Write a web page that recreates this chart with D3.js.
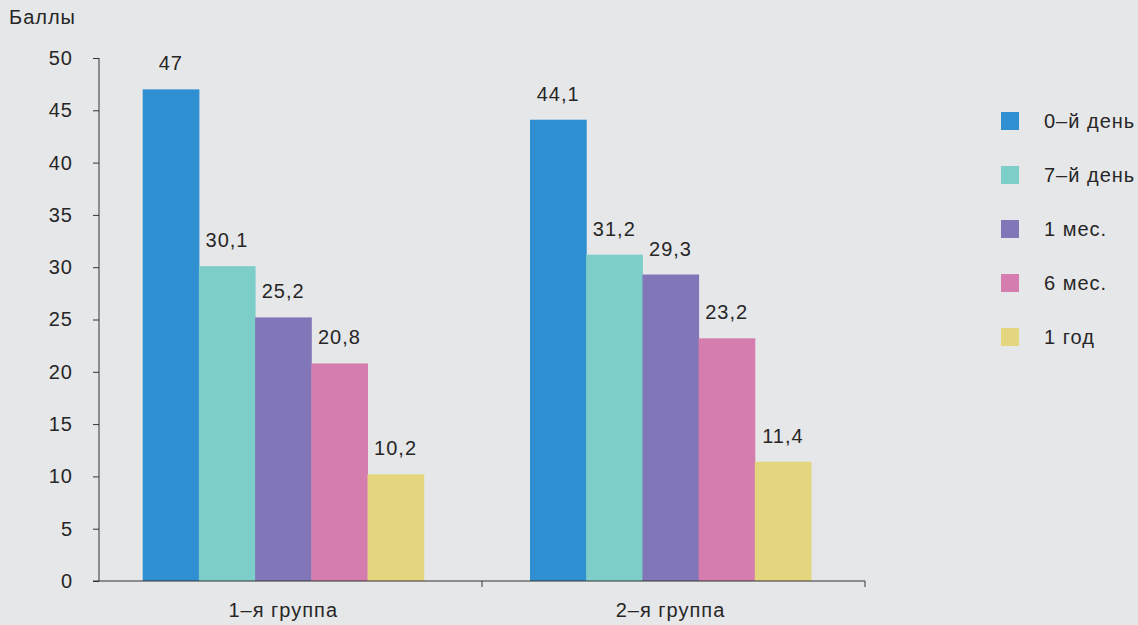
<!DOCTYPE html>
<html>
<head>
<meta charset="utf-8">
<script src="https://cdn.jsdelivr.net/npm/d3@7"></script>
<style>
  html, body { margin: 0; padding: 0; background: #e6e7e9; }
  svg { display: block; font-family: "Liberation Sans", Arial, sans-serif; }
  text { fill: #262626; letter-spacing: 1px; }
</style>
</head>
<body>
<svg id="chart" width="1138" height="625"></svg>
<script>
// Groups, time points and scores
const groups = ["1–я группа", "2–я группа"];
const series = ["0–й день", "7–й день", "1 мес.", "6 мес.", "1 год"];
const group1Values = [47, 30.1, 25.2, 20.8, 10.2];
const group2Values = [44.1, 31.2, 29.3, 23.2, 11.4];
const yTicks = [0, 5, 10, 15, 20, 25, 30, 35, 40, 45, 50];
const yTitle = "Баллы";
const colors = ["#2f8fd0", "#7dcdc8", "#8076b8", "#d57daf", "#e3d67e"];

const values = [group1Values, group2Values];
const data = groups.map((g, gi) => ({
  group: g,
  items: series.map((s, si) => ({ series: s, value: values[gi][si] }))
}));

const svg = d3.select("#chart");
const fmt = v => String(v).replace(".", ",");

// Plot frame
const plotLeft = 99, plotRight = 865, plotTop = 58, plotBottom = 581;

const y = d3.scaleLinear().domain([0, 50]).range([plotBottom, plotTop]);

// Group sections along the x axis (boundaries carry the ticks)
const xSection = d3.scaleBand().domain(groups).range([plotLeft, plotRight]).paddingInner(0);

// Bar clusters
const xGroup = d3.scaleBand().domain(groups).range([142.7, 811]).paddingInner(0.2745).paddingOuter(0);
const xSeries = d3.scaleBand().domain(series).range([0, xGroup.bandwidth()]).padding(0);
const color = d3.scaleOrdinal().domain(series).range(colors);

// Y axis
const yAxis = d3.axisLeft(y).tickValues(yTicks).tickSize(6).tickPadding(20).tickFormat(d => d);
const gy = svg.append("g").attr("transform", `translate(${plotLeft},0)`).call(yAxis);
gy.selectAll("path, line").attr("stroke", "#333");
gy.selectAll("text").attr("font-size", 20).attr("fill", "#262626").style("font-family", "Liberation Sans, Arial, sans-serif");
gy.select(".domain").remove();
svg.append("line")
  .attr("x1", plotLeft).attr("x2", plotLeft)
  .attr("y1", y(50)).attr("y2", y(0))
  .attr("stroke", "#333");

// Y title
svg.append("text").attr("x", 9).attr("y", 24).attr("font-size", 20).text(yTitle);

// Bars
const gGroups = svg.selectAll("g.grp").data(data).join("g")
  .attr("class", "grp")
  .attr("transform", d => `translate(${xGroup(d.group)},0)`);

gGroups.selectAll("rect").data(d => d.items).join("rect")
  .attr("x", d => xSeries(d.series))
  .attr("width", xSeries.bandwidth() + 0.5)
  .attr("y", d => y(d.value))
  .attr("height", d => y(0) - y(d.value))
  .attr("fill", d => color(d.series));

gGroups.selectAll("text.val").data(d => d.items).join("text")
  .attr("class", "val")
  .attr("x", d => xSeries(d.series) + xSeries.bandwidth() / 2)
  .attr("y", d => y(d.value) - 19)
  .attr("text-anchor", "middle")
  .attr("font-size", 20)
  .text(d => fmt(d.value));

// X axis
const gx = svg.append("g");
gx.append("line")
  .attr("x1", plotLeft - 6).attr("x2", plotRight)
  .attr("y1", plotBottom).attr("y2", plotBottom)
  .attr("stroke", "#333");
gx.selectAll("line.tk").data(groups).join("line")
  .attr("class", "tk")
  .attr("x1", d => xSection(d) + xSection.bandwidth())
  .attr("x2", d => xSection(d) + xSection.bandwidth())
  .attr("y1", plotBottom).attr("y2", plotBottom + 6)
  .attr("stroke", "#333");
gx.selectAll("text").data(groups).join("text")
  .attr("x", d => xGroup(d) + xGroup.bandwidth() / 2)
  .attr("y", 617)
  .attr("text-anchor", "middle")
  .attr("font-size", 20)
  .text(d => d);

// Legend
const legend = svg.append("g").attr("transform", "translate(1001,112)");
const li = legend.selectAll("g").data(series).join("g")
  .attr("transform", (d, i) => `translate(0,${i * 54})`);
li.append("rect").attr("width", 18).attr("height", 18).attr("fill", d => color(d));
li.append("text").attr("x", 43).attr("y", 9).attr("dy", "0.35em")
  .attr("font-size", 20).text(d => d);
</script>
</body>
</html>
